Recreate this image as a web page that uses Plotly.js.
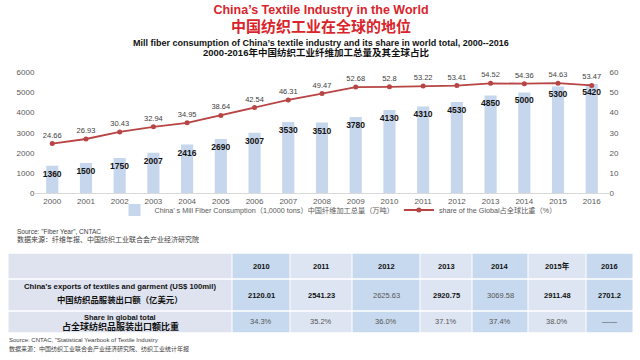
<!DOCTYPE html>
<html><head><meta charset="utf-8">
<script src="https://cdn.plot.ly/plotly-3.0.1.min.js"></script>
<style>html,body{margin:0;padding:0;background:#fff}#chart{width:640px;height:360px}</style>
</head><body><div id="chart"></div>
<script>
// ---- data ----
const years = ['2000','2001','2002','2003','2004','2005','2006','2007','2008','2009','2010','2011','2012','2013','2014','2015','2016'];
const fiberConsumption = [1360,1500,1750,2007,2416,2690,3007,3530,3510,3780,4130,4310,4530,4850,5000,5300,5420];
const globalShare = [24.66,26.93,30.43,32.94,34.95,38.64,42.54,46.31,49.47,52.68,52.8,53.22,53.41,54.52,54.36,54.63,53.47];
const tableYears = ['2010','2011','2012','2013','2014','2015年','2016'];
const exportValues = ['2120.01','2541.23','2625.63','2920.75','3069.58','2911.48','2701.2'];
const exportShare = ['34.3%','35.2%','36.0%','37.1%','37.4%','38.0%','——'];
const rowLabels = [
  ['', ''],
  ['China\u2019s exports of textiles and garment (US$ 100mil)', '中国纺织品服装出口额（亿美元）'],
  ['Share in global total', '占全球纺织品服装出口额比重']
];

// ---- styles / layout helpers ----
const W = 640, H = 360;
const px = x => x / W;
const py = y => 1 - y / H;
const FONT = 'Liberation Sans, Arial, Noto Sans CJK SC, sans-serif';
const exportBold = [true,true,false,true,false,true,true];
const colEdges = [8, 232, 290, 352, 420, 472, 528, 586, 633];
const rowEdges = [253, 279, 311, 333];
const colFill = ['#c7d9ee','#dde5f2'];
const firstColFill = '#dfe3ef';

const bars = {
  type: 'bar', x: years, y: fiberConsumption,
  name: 'China\u2019 s Mill Fiber Consumption（1,0000 tons）中国纤维加工总量（万吨）',
  marker: {color: '#c6d6ec'},
  width: 0.36,
  text: fiberConsumption.map(String),
  texttemplate: '<b>%{text}</b>',
  textposition: 'inside', insidetextanchor: 'end', textangle: 0, constraintext: 'none',
  insidetextfont: {family: FONT, size: 8.5, color: '#111111'},
  hoverinfo: 'skip'
};
const line = {
  type: 'scatter', mode: 'lines+markers+text', x: years, y: globalShare, yaxis: 'y2',
  name: 'share of the Global占全球比重（%）',
  line: {color: '#b84444', width: 1.8},
  marker: {color: '#b84444', size: 5},
  text: globalShare.map(String), textposition: 'top center',
  textfont: {family: FONT, size: 7.5, color: '#404040'},
  hoverinfo: 'skip'
};

const shapes = [];
const annotations = [];
function note(text, x, y, size, color, xanchor) {
  annotations.push({text: text, x: px(x), y: py(y), xref: 'paper', yref: 'paper',
    xanchor: xanchor || 'center', yanchor: 'middle', showarrow: false,
    font: {family: FONT, size: size, color: color}});
}
note('<b>中国纺织工业在全球的地位</b>', 321, 26.5, 15, '#d9242b');
note('<b>Mill fiber consumption of China\u2019s textile industry and its share in world total, 2000--2016</b>', 320.5, 42.7, 9, '#111111');
note('<b>2000-2016年中国纺织工业纤维加工总量及其全球占比</b>', 316, 52.5, 9.5, '#111111');
note('Source: "Fiber Year", CNTAC', 15, 231.7, 6.5, '#404040', 'left');
note('数据来源：纤维年报、中国纺织工业联合会产业经济研究院', 15, 239, 7, '#404040', 'left');
note('Source: CNTAC, "Statistical Yearbook of Textile Industry', 7, 340, 6, '#404040', 'left');
note('数据来源：中国纺织工业联合会产业经济研究院、纺织工业统计年报', 7, 349, 6, '#404040', 'left');

// table cells
for (let r = 0; r < 3; r++) {
  for (let c = 0; c < colEdges.length - 1; c++) {
    const fill = c === 0 ? firstColFill : colFill[(c - 1) % 2];
    shapes.push({type: 'rect', xref: 'paper', yref: 'paper', layer: 'below',
      x0: px(colEdges[c] + 0.5), x1: px(colEdges[c + 1] - 0.5),
      y0: py(rowEdges[r] + 0.8), y1: py(rowEdges[r + 1] - 0.8),
      fillcolor: fill, line: {width: 0}});
  }
}
const colCenter = c => (colEdges[c + 1] + colEdges[c + 2]) / 2;
tableYears.forEach((t, i) => note('<b>' + t + '</b>', colCenter(i), 266, 7.5, '#111111'));
exportValues.forEach((t, i) => note(exportBold[i] ? '<b>' + t + '</b>' : t, colCenter(i), 295, 7.5, exportBold[i] ? '#111111' : '#555555'));
exportShare.forEach((t, i) => note(t, colCenter(i), 321, 7.5, '#555555'));
const labelX = (colEdges[0] + colEdges[1]) / 2;
note('<b>' + rowLabels[1][0] + '</b>', labelX, 286.3, 7.7, '#111111');
note('<b>' + rowLabels[1][1] + '</b>', labelX, 300.3, 8.4, '#111111');
note('<b>' + rowLabels[2][0] + '</b>', labelX, 317.3, 7.5, '#111111');
note('<b>' + rowLabels[2][1] + '</b>', labelX, 326, 9, '#111111');

const layout = {
  width: W, height: H,
  margin: {l: 0, r: 0, t: 0, b: 0, pad: 0},
  paper_bgcolor: '#ffffff', plot_bgcolor: 'rgba(0,0,0,0)',
  font: {family: FONT, color: '#595959'},
  title: {text: '<b>China\u2019s Textile Industry in the World</b>', x: px(321), xanchor: 'center',
    y: py(10), yanchor: 'middle', yref: 'container', font: {family: FONT, size: 12.5, color: '#d9242b'}},
  xaxis: {type: 'category', domain: [px(35.4), px(608.6)], range: [-0.5, 16.5],
    showline: true, linecolor: '#d9d9d9', linewidth: 1, ticks: '', showgrid: false, zeroline: false,
    tickfont: {size: 8, color: '#595959'}, fixedrange: true},
  yaxis: {domain: [py(193.3), py(72.3)], range: [0, 6000], dtick: 1000, showgrid: false, zeroline: false,
    ticks: '', showline: false, tickfont: {size: 8, color: '#595959'}, fixedrange: true},
  yaxis2: {overlaying: 'y', side: 'right', range: [0, 60], dtick: 10, showgrid: false, zeroline: false,
    ticks: '', showline: false, tickfont: {size: 8, color: '#595959'}, fixedrange: true},
  showlegend: true,
  legend: {orientation: 'h', x: px(338), xanchor: 'center', y: py(210), yanchor: 'middle',
    font: {size: 7.2, color: '#595959'}, bgcolor: 'rgba(0,0,0,0)', itemwidth: 30},
  shapes: shapes,
  annotations: annotations
};
Plotly.newPlot('chart', [bars, line], layout, {displayModeBar: false, staticPlot: true});
</script>
</body></html>
